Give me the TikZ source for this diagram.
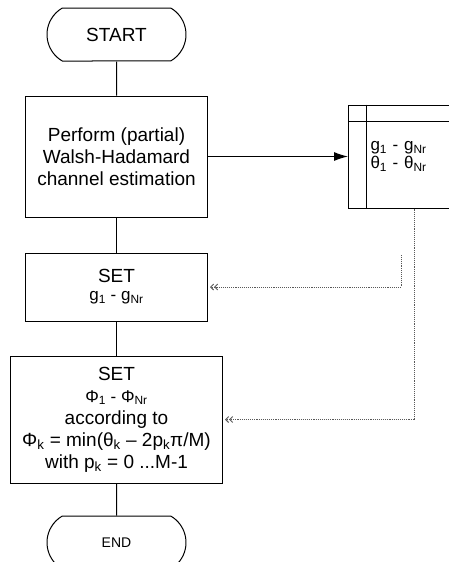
\documentclass[tikz,border=0pt]{standalone}
\usepackage{fontspec}
\setmainfont{Liberation Sans}
\usepackage{tikz}
\usetikzlibrary{shapes.misc, arrows.meta, positioning, calc}
\newcommand{\bigtxt}{\fontsize{19}{22}\selectfont}
\newcommand{\midtxt}{\fontsize{17}{18}\selectfont}
\newcommand{\lowtxt}{\fontsize{14}{16}\selectfont}
\tikzset{
  termbox/.style={
    draw, rounded rectangle, rounded rectangle arc length=120, line width=1pt,
    minimum width=139pt, minimum height=53pt, inner sep=0pt
  },
  flowbox/.style={
    draw, rectangle, line width=1pt, align=center, inner sep=0pt, font=\bigtxt
  },
  storebox/.style={
    draw, rectangle, line width=1pt, align=left, font=\midtxt,
    text width=85pt, inner xsep=22pt, minimum height=103pt
  },
  flowline/.style={line width=1pt},
  flowarrow/.style={
    -{Latex[length=14pt,width=9pt]}, line width=1pt
  },
  taparrow/.style={
    -{Straight Barb[length=3pt,width=6pt]Straight Barb[length=3pt,width=6pt]},
    densely dotted, line width=0.9pt, color=gray!70!black, shorten >=2pt
  },
}
\begin{document}
\begin{tikzpicture}[x=1pt, y=-1pt]
  \useasboundingbox (0,0) rectangle (448,562);
  % ── Flow ──
  \node[termbox, font=\bigtxt] (start) at (116.5,34.5) {START};
  \node[flowbox, minimum width=182pt, minimum height=121pt, below=34pt of start] (estim)
    {Perform (partial)\\Walsh-Hadamard\\channel estimation};
  \node[flowbox, minimum width=182pt, minimum height=68pt, below=35pt of estim] (setgain)
    {SET\\[-4pt]{\midtxt g\textsubscript{1} - g\textsubscript{Nr}}};
  \node[flowbox, minimum width=212pt, minimum height=127pt, below=34pt of setgain] (setphase)
    {SET\\{\midtxt Φ\textsubscript{1} - Φ\textsubscript{Nr}}\\according to\\
     Φ\textsubscript{k} = min(θ\textsubscript{k} – 2p\textsubscript{k}π/M)\\
     with p\textsubscript{k} = 0 ...M-1};
  \node[termbox, font=\lowtxt, below=32pt of setphase] (end) {END};

  % ── Store ──
  \node[storebox, right=140pt of estim] (store)
    {g\textsubscript{1} - g\textsubscript{Nr}\\θ\textsubscript{1} - θ\textsubscript{Nr}};
  \draw[flowline] ($(store.north west)+(18,0)$) -- ($(store.south west)+(18,0)$);
  \draw[flowline] ($(store.north west)+(0,17)$) -- ($(store.north east)+(0,17)$);

  % ── Connectors ──
  \draw[flowline] (start) -- (estim);
  \draw[flowline] (estim) -- (setgain);
  \draw[flowline] (setgain) -- (setphase);
  \draw[flowline] (setphase) -- (end);
  \draw[flowarrow] (estim) -- (store);

  % ── Taps ──
  \coordinate (gtap) at (401,255);
  \coordinate (thetatap) at ($(store.south west)+(66,0)$);
  \draw[taparrow] (gtap) |- (setgain.east);
  \draw[taparrow] (thetatap) |- (setphase.east);
\end{tikzpicture}
\end{document}
